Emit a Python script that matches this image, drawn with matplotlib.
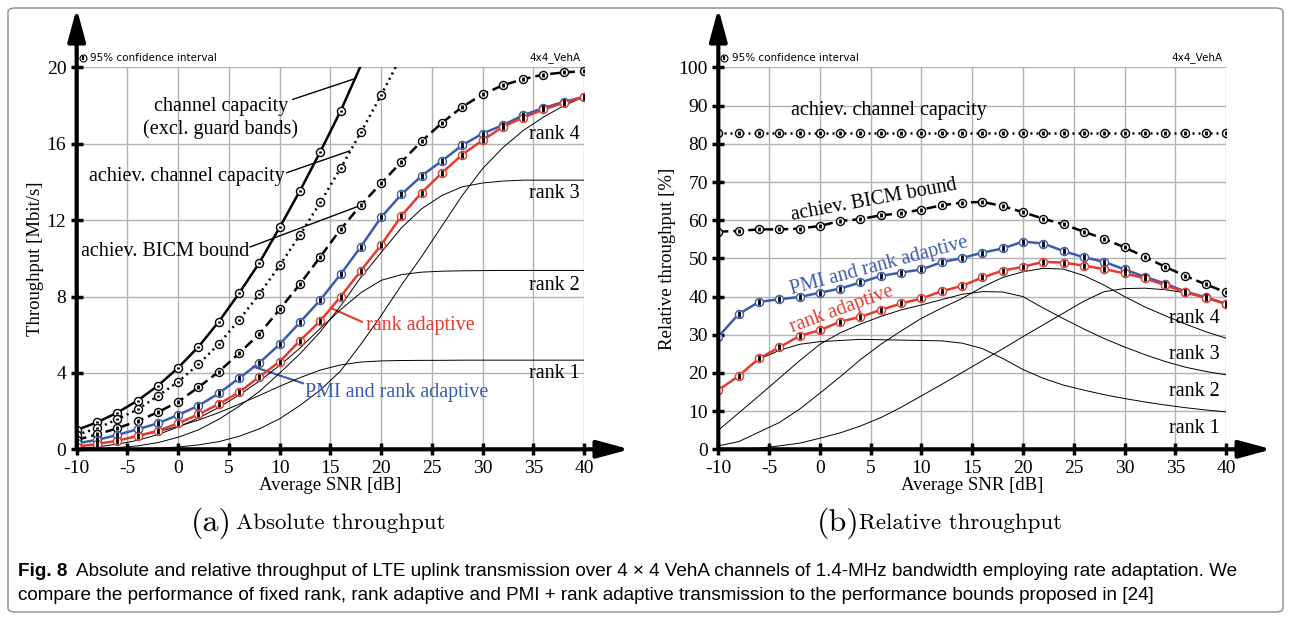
import numpy as np
import matplotlib.pyplot as plt
from matplotlib.patches import FancyBboxPatch

plt.rcParams['font.family'] = 'serif'
plt.rcParams['font.serif'] = ['Liberation Serif', 'DejaVu Serif']
plt.rcParams['axes.unicode_minus'] = False

# ── Data ───────────────────────────────────────────────────────────
snr = [-10, -8, -6, -4, -2, 0, 2, 4, 6, 8, 10, 12, 14, 16, 18, 20,
       22, 24, 26, 28, 30, 32, 34, 36, 38, 40]

# (a) absolute throughput [Mbit/s]
snr_cap = [-10, -8, -6, -4, -2, 0, 2, 4, 6, 8, 10, 12, 14, 16, 18, 20]
cap_abs = [1.01, 1.41, 1.92, 2.55, 3.33, 4.27, 5.37, 6.68, 8.17, 9.77,
           11.62, 13.54, 15.58, 17.71, 20.1, 22.2]
snr_ach = [-10, -8, -6, -4, -2, 0, 2, 4, 6, 8, 10, 12, 14, 16, 18, 20, 22]
ach_abs = [0.75, 1.10, 1.57, 2.09, 2.79, 3.54, 4.45, 5.51, 6.77, 8.13,
           9.63, 11.22, 12.93, 14.71, 16.6, 18.55, 20.6]
bicm_abs = [0.49, 0.78, 1.10, 1.48, 1.94, 2.49, 3.25, 4.06, 5.03, 6.04,
            7.33, 8.65, 10.08, 11.52, 12.79, 13.93, 15.06, 16.14, 17.1,
            17.94, 18.59, 19.07, 19.39, 19.63, 19.74, 19.81]
pmi_abs = [0.31, 0.49, 0.75, 1.05, 1.36, 1.80, 2.28, 2.93, 3.72, 4.53,
           5.50, 6.65, 7.82, 9.16, 10.61, 12.15, 13.35, 14.33, 15.11,
           15.93, 16.54, 16.98, 17.5, 17.88, 18.2, 18.46]
radapt_abs = [0.14, 0.28, 0.45, 0.70, 0.97, 1.36, 1.83, 2.37, 2.98, 3.80,
              4.59, 5.69, 6.72, 7.99, 9.35, 10.70, 12.23, 13.45, 14.48,
              15.44, 16.19, 16.89, 17.38, 17.8, 18.15, 18.46]
rank1_abs = [0.14, 0.28, 0.45, 0.67, 0.92, 1.2, 1.53, 1.92, 2.36, 2.82,
             3.3, 3.75, 4.15, 4.42, 4.57, 4.63, 4.65, 4.66, 4.66, 4.67,
             4.67, 4.67, 4.67, 4.67, 4.67, 4.67]
rank2_abs = [0.05, 0.13, 0.27, 0.47, 0.77, 1.17, 1.64, 2.19, 2.84, 3.57,
             4.39, 5.3, 6.33, 7.31, 8.2, 8.85, 9.15, 9.28, 9.33, 9.35,
             9.36, 9.37, 9.37, 9.37, 9.37, 9.37]
rank3_abs = [0.01, 0.03, 0.09, 0.18, 0.35, 0.63, 1.02, 1.57, 2.25, 3.03,
             3.99, 5.0, 6.15, 7.5, 9.0, 10.3, 11.6, 12.6, 13.3, 13.75,
             13.95, 14.05, 14.1, 14.1, 14.1, 14.1]
rank4_abs = [0.0, 0.0, 0.01, 0.03, 0.06, 0.12, 0.23, 0.4, 0.68, 1.07,
             1.6, 2.3, 3.1, 4.1, 5.5, 7.0, 8.6, 10.1, 11.7, 13.3, 14.7,
             15.8, 16.7, 17.4, 18.0, 18.46]

# (b) relative throughput [%]
ach_rel = [82.9] * 26
bicm_rel = [57.0, 57.2, 57.6, 57.6, 57.8, 58.5, 59.8, 60.3, 61.3, 61.8,
            62.8, 63.9, 64.6, 64.8, 63.7, 62.1, 60.4, 58.9, 57.0, 55.1,
            52.9, 50.4, 47.8, 45.4, 43.2, 41.1]
pmi_rel = [29.5, 35.4, 38.6, 39.3, 39.9, 41.0, 42.1, 43.7, 45.4, 46.3,
           47.1, 49.0, 50.1, 51.5, 52.6, 54.4, 53.9, 51.9, 50.3, 49.1,
           47.1, 45.2, 43.4, 41.3, 39.8, 38.1]
radapt_rel = [15.5, 19.2, 23.8, 26.7, 29.7, 31.2, 33.4, 34.7, 36.5, 38.2,
              39.5, 41.4, 42.8, 45.0, 46.8, 47.8, 49.1, 48.9, 48.1, 47.2,
              46.1, 44.8, 43.0, 41.1, 39.7, 38.1]
rank1_rel = [15.5, 19.2, 23.6, 25.9, 27.5, 28.2, 28.5, 28.8, 28.7, 28.6,
             28.5, 28.4, 27.8, 26.4, 23.8, 20.9, 18.6, 16.8, 15.5, 14.3,
             13.3, 12.4, 11.6, 10.9, 10.3, 9.8]
rank2_rel = [5.0, 9.5, 14.0, 18.6, 23.2, 27.5, 30.5, 32.8, 34.8, 36.5,
             37.8, 39.2, 40.6, 41.3, 41.2, 40.0, 37.0, 34.2, 31.5, 29.0,
             26.8, 24.8, 23.0, 21.5, 20.4, 19.5]
rank3_rel = [0.9, 2.0, 4.5, 7.0, 10.5, 14.7, 19.0, 23.5, 27.5, 31.0,
             34.3, 37.0, 39.5, 42.5, 45.0, 46.5, 47.4, 47.2, 45.5, 43.0,
             40.0, 37.3, 35.0, 32.8, 30.8, 29.1]
rank4_rel = [0.0, 0.1, 0.3, 0.9, 1.6, 2.9, 4.3, 6.1, 8.3, 11.0, 14.0,
             17.0, 20.1, 23.2, 26.3, 29.5, 32.6, 35.7, 38.8, 41.3, 42.1,
             42.2, 41.8, 41.0, 39.6, 38.1]

BLUE = '#3a5cad'
RED = '#e8392e'
GRID = '#b2b2b2'
SANS = ['Liberation Sans', 'DejaVu Sans']

fig = plt.figure(figsize=(12.91, 6.17), dpi=100)
ax1 = fig.add_axes([0.0594, 0.2718, 0.3930, 0.6188])
ax2 = fig.add_axes([0.5564, 0.2718, 0.3933, 0.6188])


def style_axes(ax, ylim, yticks, ylabel):
    ax.set_xlim(-10, 40)
    ax.set_ylim(*ylim)
    ax.set_xticks(range(-10, 41, 5))
    ax.set_yticks(yticks)
    for s in ax.spines.values():
        s.set_visible(False)
    ax.set_axisbelow(True)
    ax.grid(True, color=GRID, lw=1)
    ax.tick_params(direction='inout', length=9, width=2.5, labelsize=14,
                   pad=3)
    ax.set_xlabel('Average SNR [dB]', fontsize=13.5, labelpad=0)
    ax.set_ylabel(ylabel, fontsize=13.5, labelpad=2)
    arrow = dict(arrowstyle='-|>,head_length=1.4,head_width=0.38', lw=3,
                 color='k', mutation_scale=14, shrinkA=0, shrinkB=0)
    ax.annotate('', xy=(0, 1.155), xytext=(0, 0), xycoords='axes fraction',
                arrowprops=arrow, annotation_clip=False, zorder=10)
    ax.annotate('', xy=(1.09, 0), xytext=(0, 0), xycoords='axes fraction',
                arrowprops=arrow, annotation_clip=False, zorder=10)
    # confidence-interval key and scenario tag
    ax.plot([0.012], [1.026], 'o', ms=5, mfc='white', mec='k', mew=0.8,
            transform=ax.transAxes, clip_on=False)
    ax.plot([0.012], [1.026], '|', ms=3.5, color='k', mew=1.6,
            transform=ax.transAxes, clip_on=False)
    ax.text(0.026, 1.026, '95% confidence interval', fontsize=7.5,
            family='DejaVu Sans', va='center', transform=ax.transAxes)
    ax.text(0.993, 1.026, '4x4_VehA', fontsize=7.5, family='DejaVu Sans',
            va='center', ha='right', transform=ax.transAxes)


def curve(ax, x, y, color, ls, bar, top):
    x = np.asarray(x)
    y = np.asarray(y)
    ax.plot(x, y, color=color, ls=ls, lw=1.8, zorder=4)
    keep = y <= top
    ax.plot(x[keep], y[keep], 'o', ms=5.8, mfc='white', mec=color, mew=1,
            zorder=5)
    ax.plot(x[keep], y[keep], '|', ms=bar, color='k', mew=2, zorder=6)


dotted = (0, (0.8, 1.6))
dashed = (0, (4, 2))

# ── (a) Absolute throughput ────────────────────────────────────────
style_axes(ax1, (0, 20), range(0, 21, 4), 'Throughput [Mbit/s]')
for r in [rank1_abs, rank2_abs, rank3_abs, rank4_abs]:
    ax1.plot(snr, r, color='k', lw=0.7, zorder=3)
curve(ax1, snr_cap, cap_abs, 'k', '-', 2, 19.6)
curve(ax1, snr_ach, ach_abs, 'k', dotted, 2, 19.6)
curve(ax1, snr, bicm_abs, 'k', dashed, 2.5, 20)
curve(ax1, snr, pmi_abs, BLUE, '-', 4.5, 20)
curve(ax1, snr, radapt_abs, RED, '-', 4.5, 20)

fs = 14.5
ax1.text(4.2, 17.35, 'channel capacity\n(excl. guard bands)', fontsize=fs,
         ha='center', va='center', linespacing=1.2)
ax1.plot([11.3, 17.5], [18.33, 19.43], color='k', lw=1)
ax1.text(0.84, 14.28, 'achiev. channel capacity', fontsize=fs,
         ha='center', va='center')
ax1.plot([10.7, 16.9], [14.49, 15.63], color='k', lw=1)
ax1.text(-1.33, 10.35, 'achiev. BICM bound', fontsize=fs,
         ha='center', va='center')
ax1.plot([7.1, 18.1], [10.6, 12.8], color='k', lw=1)
ax1.text(18.5, 6.5, 'rank adaptive', fontsize=fs, color=RED, va='center')
ax1.plot([15.1, 18.1], [7.39, 6.68], color=RED, lw=1.5)
ax1.text(12.5, 3.0, 'PMI and rank adaptive', fontsize=fs, color=BLUE,
         va='center')
ax1.plot([7.4, 12.3], [4.33, 3.46], color=BLUE, lw=1.5)
for lab, yy in [('rank 4', 16.5), ('rank 3', 13.4), ('rank 2', 8.6),
                ('rank 1', 3.98)]:
    ax1.text(39.6, yy, lab, fontsize=fs, ha='right', va='center')

# ── (b) Relative throughput ────────────────────────────────────────
style_axes(ax2, (0, 100), range(0, 101, 10), 'Relative throughput [%]')
for r in [rank1_rel, rank2_rel, rank3_rel, rank4_rel]:
    ax2.plot(snr, r, color='k', lw=0.7, zorder=3)
curve(ax2, snr, ach_rel, 'k', dotted, 2.5, 100)
curve(ax2, snr, bicm_rel, 'k', dashed, 2.5, 100)
curve(ax2, snr, pmi_rel, BLUE, '-', 4.5, 100)
curve(ax2, snr, radapt_rel, RED, '-', 4.5, 100)

ax2.text(6.8, 88.8, 'achiev. channel capacity', fontsize=fs,
         ha='center', va='center')
ax2.text(5.3, 65.3, 'achiev. BICM bound', fontsize=fs, ha='center',
         va='center', rotation=10.5, rotation_mode='anchor')
ax2.text(5.8, 48.0, 'PMI and rank adaptive', fontsize=fs, color=BLUE,
         ha='center', va='center', rotation=15, rotation_mode='anchor')
ax2.text(2.15, 36.7, 'rank adaptive', fontsize=fs, color=RED,
         ha='center', va='center', rotation=20, rotation_mode='anchor')
for lab, yy in [('rank 4', 34.3), ('rank 3', 24.7), ('rank 2', 15.1),
                ('rank 1', 5.5)]:
    ax2.text(39.4, yy, lab, fontsize=fs, ha='right', va='center')

# ── Sub-captions, caption and frame ───────────────────────────────
sub_y = 1 - 523 / 617
fig.text(211 / 1291, sub_y, '(a)', family='cmr10', fontsize=23,
         ha='center', va='center')
fig.text(236 / 1291, sub_y, 'Absolute throughput', family='cmr10',
         fontsize=16.5, va='center')
fig.text(838 / 1291, sub_y, '(b)', family='cmr10', fontsize=23,
         ha='center', va='center')
fig.text(859 / 1291, sub_y, 'Relative throughput', family='cmr10',
         fontsize=16.5, va='center')

cap_fs = 13.6
fig.text(18 / 1291, 1 - 571 / 617, 'Fig. 8', family=SANS, weight='bold',
         fontsize=cap_fs, va='center')
fig.text(76 / 1291, 1 - 571 / 617,
         'Absolute and relative throughput of LTE uplink transmission over '
         '4 \u00d7 4 VehA channels of 1.4-MHz bandwidth employing rate '
         'adaptation. We', family=SANS, fontsize=cap_fs, va='center')
fig.text(18 / 1291, 1 - 596 / 617,
         'compare the performance of fixed rank, rank adaptive and PMI + '
         'rank adaptive transmission to the performance bounds proposed '
         'in [24]', family=SANS, fontsize=cap_fs, va='center')

frame = FancyBboxPatch((8 / 1291, 5 / 617), 1275 / 1291, 604 / 617,
                       boxstyle='round,pad=0,rounding_size=0.006',
                       transform=fig.transFigure, fill=False,
                       ec='#8a8a8a', lw=1)
fig.patches.append(frame)

fig.savefig('out.png', dpi=100)
